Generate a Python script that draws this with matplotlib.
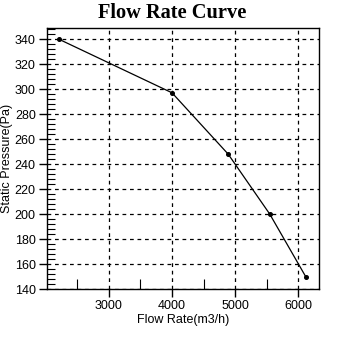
import matplotlib
matplotlib.use('Agg')
import matplotlib.pyplot as plt
from matplotlib.ticker import MultipleLocator

flow_rate = [2200, 4000, 4890, 5550, 6120]
static_pressure = [340, 297, 248, 200, 150]

x_ticks = [3000, 4000, 5000, 6000]
y_ticks = [140, 160, 180, 200, 220, 240, 260, 280, 300, 320, 340]

plt.rcParams['font.family'] = 'Liberation Sans'

fig = plt.figure(figsize=(3.45, 3.45), dpi=100)
ax = fig.add_axes([0.136, 0.162, 0.789, 0.756])

ax.plot(flow_rate, static_pressure, color='black', linewidth=0.9,
        marker='o', markersize=2.6)

ax.set_xlim(2016, 6333)
ax.set_ylim(140, 348.6)
ax.set_xticks(x_ticks)
ax.set_yticks(y_ticks)
ax.xaxis.set_minor_locator(MultipleLocator(500))
ax.yaxis.set_minor_locator(MultipleLocator(4))

ax.tick_params(which='major', direction='out', length=6, width=1,
               labelsize=9, colors='black', top=False, right=False, pad=2)
ax.tick_params(which='minor', direction='in', length=6, width=0.8,
               top=False, right=False)
ax.tick_params(axis='x', which='minor', length=7)

ax.grid(True, which='major', color='black', linestyle=(0, (3, 3)), linewidth=0.9)
for s in ax.spines.values():
    s.set_linewidth(1)
    s.set_color('black')

ax.set_xlabel('Flow Rate(m3/h)', fontsize=9, labelpad=1)
ax.set_ylabel('Static Pressure(Pa)', fontsize=9)
ax.yaxis.set_label_coords(-0.124, 0.5)
fig.text(0.5, 0.963, 'Flow Rate Curve', ha='center', va='center',
         fontsize=14.7, fontweight='bold', family='Liberation Serif')

fig.savefig('out.png', dpi=100)
